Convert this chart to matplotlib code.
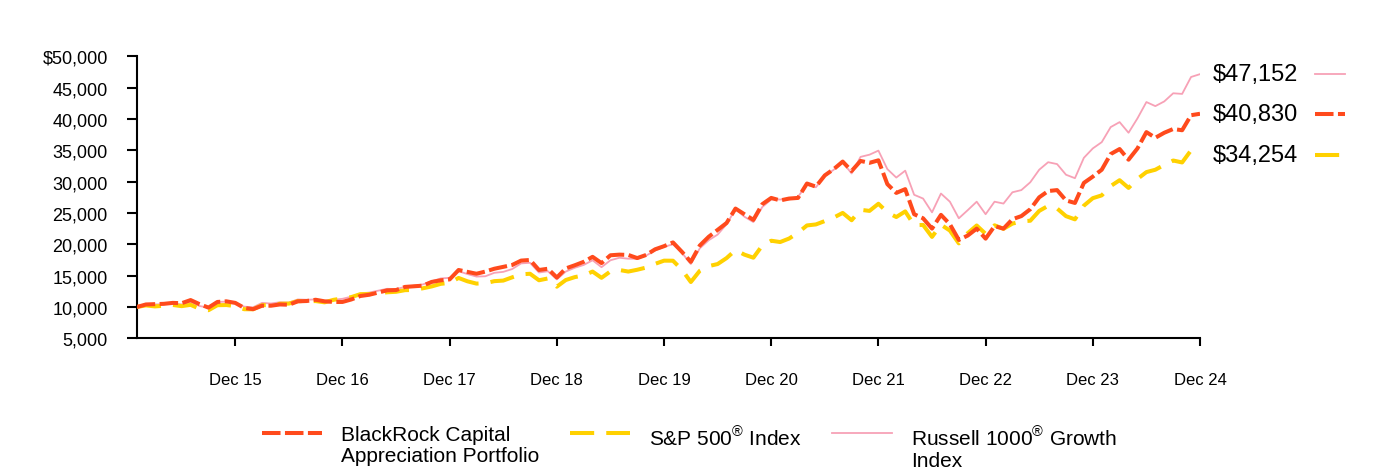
import matplotlib
matplotlib.use("Agg")
import matplotlib.pyplot as plt
import matplotlib.transforms as mtransforms
from matplotlib.ticker import FuncFormatter

plt.rcParams['font.family'] = ['Liberation Sans', 'DejaVu Sans']
plt.rcParams['mathtext.fontset'] = 'custom'
plt.rcParams['mathtext.rm'] = 'Liberation Sans'

# monthly values, Jan 2015 .. Dec 2024
fund = [10000, 10400, 10450, 10500, 10650, 10600, 11100, 10450, 9900, 10800, 10900, 10650,
        9850, 9650, 10200, 10200, 10400, 10350, 10900, 10950, 11150, 10900, 10800, 10800,
        11200, 11750, 11950, 12300, 12650, 12700, 13200, 13300, 13400, 14000, 14250, 14400,
        15900, 15600, 15300, 15650, 16100, 16400, 16700, 17400, 17500, 15900, 16100, 14700,
        16150, 16650, 17200, 18000, 17000, 18250, 18350, 18300, 17800, 18300, 19200, 19700,
        20300, 18800, 17200, 19800, 21200, 22300, 23400, 25700, 24800, 23900, 26400, 27400,
        27000, 27300, 27400, 29700, 29200, 31000, 32000, 33200, 31700, 33300, 33000, 33400,
        29600, 28200, 28800, 24800, 24150, 22500, 24700, 23200, 20700, 21400, 22500, 20900,
        22900, 22500, 24000, 24500, 25600, 27500, 28500, 28650, 27000, 26600, 29800, 30800,
        31900, 34400, 35200, 33500, 35300, 37900, 37000, 37800, 38400, 38200, 40600, 40830]

sp500 = [10000, 10250, 10090, 10190, 10320, 10130, 10340, 9720, 9480, 10280, 10310, 10140,
         9640, 9630, 10280, 10320, 10510, 10540, 10930, 10940, 10940, 10740, 11140, 11360,
         11580, 12040, 12050, 12170, 12340, 12420, 12680, 12720, 12980, 13280, 13690, 13840,
         14630, 14090, 13730, 13790, 14120, 14210, 14730, 15210, 15300, 14260, 14550, 13240,
         14300, 14760, 15040, 15650, 14650, 15680, 15900, 15650, 15940, 16290, 16880, 17390,
         17380, 15950, 13980, 15770, 16520, 16850, 17800, 19080, 18350, 17860, 19810, 20570,
         20360, 20920, 21840, 23010, 23170, 23710, 24270, 25010, 23840, 25510, 25330, 26470,
         25100, 24350, 25250, 23050, 23090, 21180, 23130, 22190, 20150, 21780, 23000, 21670,
         23030, 22470, 23300, 23660, 23760, 25330, 26140, 25720, 24490, 23980, 26170, 27360,
         27810, 29290, 30230, 29000, 30430, 31520, 31900, 32670, 33370, 33060, 35000, 34254]

r1000g = [10000, 10450, 10400, 10450, 10600, 10400, 10800, 10150, 9900, 10800, 10850, 10650,
          10050, 9950, 10650, 10550, 10750, 10700, 11200, 11150, 11200, 10900, 11150, 11300,
          11650, 12150, 12300, 12600, 12900, 12850, 13200, 13400, 13600, 14100, 14550, 14650,
          15700, 15250, 14850, 14900, 15450, 15600, 16050, 16950, 17050, 15500, 15700, 14400,
          15650, 16250, 16700, 17450, 16350, 17450, 17850, 17700, 17700, 18200, 19000, 19600,
          20000, 18650, 16850, 19350, 20650, 21550, 23200, 25600, 24400, 23550, 25950, 27150,
          27150, 27150, 27600, 29500, 29100, 30900, 31900, 33100, 31300, 33950, 34300, 34950,
          32000, 30650, 31750, 27900, 27300, 25100, 28100, 26800, 24150, 25450, 26800, 24800,
          26800, 26500, 28300, 28650, 29900, 31900, 33100, 32800, 31100, 30550, 33800, 35300,
          36300, 38700, 39500, 37800, 40100, 42700, 42050, 42800, 44100, 44000, 46700, 47152]

tick_idx = [11, 23, 35, 47, 59, 71, 83, 95, 107, 119]
tick_labels = ['Dec 15', 'Dec 16', 'Dec 17', 'Dec 18', 'Dec 19',
               'Dec 20', 'Dec 21', 'Dec 22', 'Dec 23', 'Dec 24']
end_labels = ['$47,152', '$40,830', '$34,254']

RED = '#FF4A1C'
YELLOW = '#FFD100'
PINK = '#F7A1B6'

fig = plt.figure(figsize=(13.84, 4.77), dpi=100)
ax = fig.add_axes([137 / 1384, 1 - 339.3 / 477, 1063 / 1384, 282 / 477])

x = list(range(len(fund)))
ax.plot(x, r1000g, color=PINK, lw=1.3, label='Russell 1000$^{®}$ Growth\nIndex', zorder=2)
ax.plot(x, sp500, color=YELLOW, lw=2.9, dashes=(6, 3),
        label='S&P 500$^{®}$ Index', zorder=3)
ax.plot(x, fund, color=RED, lw=2.9, dashes=(4.6, 1.1),
        label='BlackRock Capital\nAppreciation Portfolio', zorder=4)

ax.set_xlim(0, len(fund) - 1)
ax.set_ylim(5000, 50000)
ax.set_yticks(range(5000, 50001, 5000))
ax.yaxis.set_major_formatter(FuncFormatter(
    lambda v, p: ('$' if v == 50000 else '') + f'{int(v):,}'))
ax.set_xticks(tick_idx)
ax.set_xticklabels(tick_labels)

for s in ['top', 'right']:
    ax.spines[s].set_visible(False)
for s in ['left', 'bottom']:
    ax.spines[s].set_linewidth(1.5)
ax.tick_params(axis='y', length=7, width=1.5, pad=14, labelsize=13)
ax.tick_params(axis='x', length=6, width=1.5, pad=18, labelsize=12)

# end-of-period value labels with a small line sample
trans = mtransforms.blended_transform_factory(ax.transAxes, ax.transData)
ends = [(r1000g[-1], PINK, None, 1.3), (fund[-1], RED, (4.6, 1.1), 2.9),
        (sp500[-1], YELLOW, (6, 3), 2.9)]
for (val, col, dsh, lw), txt in zip(ends, end_labels):
    ax.text(1.012, val, txt, transform=trans, fontsize=17, ha='left', va='center')
    ln, = ax.plot([1.108, 1.136], [val, val], color=col, lw=lw,
                  transform=trans, clip_on=False)
    if dsh:
        ln.set_dashes(dsh)

h, l = ax.get_legend_handles_labels()
order = [2, 1, 0]
leg = fig.legend([h[i] for i in order], [l[i] for i in order],
                 loc='upper left', bbox_to_anchor=(262 / 1384, 1 - 426 / 477),
                 ncol=3, frameon=False, fontsize=15, handlelength=2.9,
                 handleheight=1.0, handletextpad=0.9, columnspacing=1.45,
                 borderpad=0, borderaxespad=0)
leg._legend_handle_box.align = 'top'
for col in leg._legend_handle_box.get_children():
    for item in col.get_children():
        item.align = 'top'
for t in leg.get_texts():
    t.set_linespacing(1.15)

fig.savefig('out.png', dpi=100)
